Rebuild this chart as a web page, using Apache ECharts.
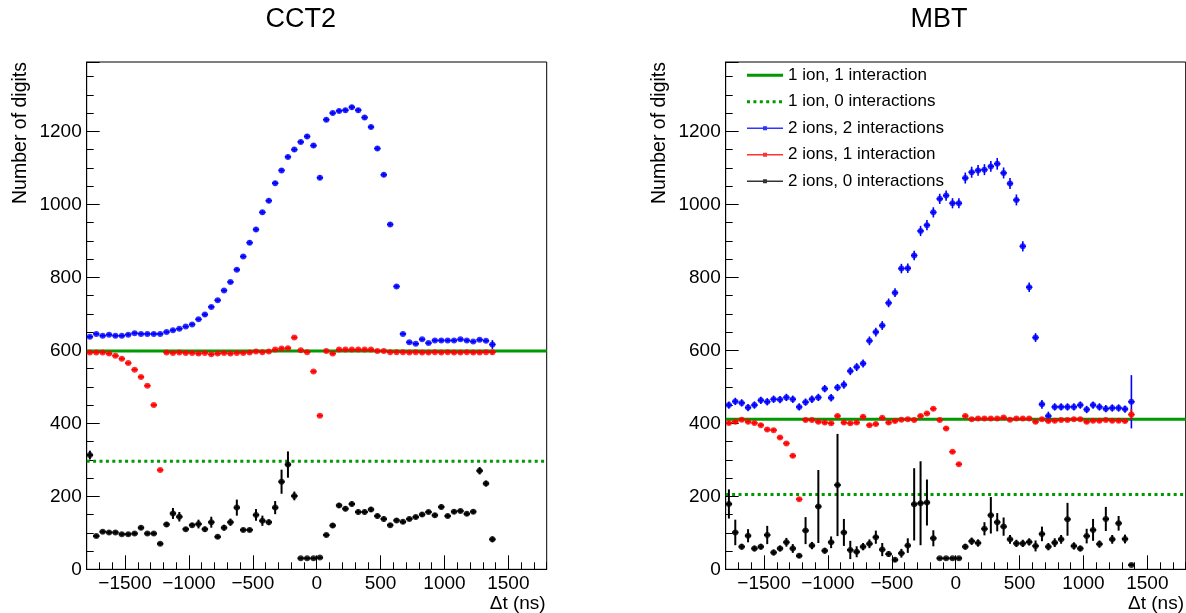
<!DOCTYPE html>
<html>
<head>
<meta charset="utf-8">
<script src="https://cdn.jsdelivr.net/npm/echarts@6/dist/echarts.min.js"></script>
<style>html,body{margin:0;padding:0;background:#fff}#c{width:1186px;height:613px}</style>
</head>
<body>
<div id="c"></div>
<script>
// ---------- data ----------
const bins = [-1775,-1725,-1675,-1625,-1575,-1525,-1475,-1425,
  -1375,-1325,-1275,-1225,-1175,-1125,-1075,-1025,
  -975,-925,-875,-825,-775,-725,-675,-625,
  -575,-525,-475,-425,-375,-325,-275,-225,
  -175,-125,-75,-25,25,75,125,175,
  225,275,325,375,425,475,525,575,
  625,675,725,775,825,875,925,975,
  1025,1075,1125,1175,1225,1275,1325,1375];
const HALF_BIN = 25;
const xTicks = [-1500,-1000,-500,0,500,1000,1500];

// CCT2 (left panel)
const cct2_2ion2int = [637,645,640,643,640,640,643,647,
  645,645,645,645,650,655,659,665,
  671,685,698,719,737,764,787,821,
  857,895,931,978,1010,1058,1093,1130,
  1150,1171,1186,1161,1073,1232,1250,1256,
  1258,1266,1258,1238,1212,1153,1081,945,
  775,645,622,618,630,620,627,627,
  627,627,630,627,624,629,626,616];
const cct2_2ion2int_err = [4,4,4,4,4,4,4,4, 4,4,4,4,4,4,4,4, 4,4,5,5,5,5,5,5, 5,6,6,6,6,6,6,6,
  6,6,6,6,6,6,6,6, 6,6,6,6,6,6,6,6, 5,4,4,4,4,4,4,4, 4,4,4,4,4,4,4,12];
const cct2_2ion1int = [594,594,594,591,585,577,565,547,
  527,503,450,272,594,593,594,593,
  593,591,593,589,591,593,591,593,
  593,594,597,595,597,602,605,606,
  635,600,595,542,421,598,591,602,
  602,602,602,602,602,598,598,595,
  595,595,594,595,594,594,595,594,
  595,594,594,595,594,594,595,595];
const cct2_2ion1int_err = [4,4,4,4,4,4,4,4, 4,4,4,4,4,4,4,4, 4,4,4,4,4,4,4,4, 4,4,4,4,4,4,4,4,
  4,4,4,4,4,4,4,4, 4,4,4,4,4,4,4,4, 4,4,4,4,4,4,4,4, 4,4,4,4,4,4,4,6];
const cct2_2ion0int = [313,91,103,101,101,96,96,98,
  114,98,98,70,123,153,144,110,
  121,124,110,129,89,114,129,169,
  108,108,149,133,129,169,240,287,
  201,30,30,30,32,94,120,175,
  166,179,157,157,164,146,138,121,
  134,130,138,143,150,157,148,171,
  146,158,160,152,158,270,235,82];
const cct2_2ion0int_err = [12,5,5,5,5,5,5,5,
  6,5,5,5,7,15,13,6,
  6,12,7,15,6,8,10,22,
  6,6,16,14,8,18,33,36,
  12,3,3,3,3,6,7,7,
  7,7,7,7,7,7,7,6,
  6,6,6,6,6,6,6,7,
  6,6,6,6,6,10,8,8];
const cct2_1ion1int = 598;
const cct2_1ion0int = 296;

// MBT (right panel)
const mbt_2ion2int = [450,460,456,443,450,463,459,466,
  465,471,466,445,458,466,471,495,
  470,498,506,543,554,564,626,650,
  668,730,758,824,825,860,927,943,
  978,1015,1024,1003,1003,1072,1088,1093,
  1095,1104,1111,1086,1057,1012,885,773,
  635,452,420,445,445,445,445,450,
  438,450,445,440,442,442,439,459];
const mbt_2ion2int_err = [10,10,10,10,10,10,10,10, 10,10,10,10,10,10,10,10,
  10,10,11,11,11,11,12,12, 12,12,12,13,13,13,14,14,
  14,14,14,14,14,15,15,15, 15,15,16,15,15,15,14,13,
  12,12,12,10,10,10,10,10, 10,10,10,10,10,10,10,73];
const mbt_2ion1int = [401,404,410,404,401,395,383,381,
  361,345,311,192,409,409,404,402,
  400,420,402,400,402,418,395,398,
  415,402,406,410,411,409,420,427,
  440,409,386,322,288,420,411,413,
  413,413,413,416,410,413,413,413,
  404,411,406,407,409,409,411,411,
  404,407,407,409,407,407,406,424];
const mbt_2ion1int_err = [5,5,5,5,5,5,5,5, 5,5,5,5,5,5,5,5, 5,5,5,5,5,5,5,5, 5,5,5,5,5,5,5,5,
  5,5,5,5,5,5,5,5, 5,5,5,5,5,5,5,5, 5,5,5,5,5,5,5,5, 5,5,5,5,5,5,5,15];
const mbt_2ion0int = [179,101,62,92,57,62,94,46,
  57,74,57,37,106,65,172,51,
  74,231,101,53,48,62,70,88,
  54,42,26,44,65,178,181,183,
  85,30,30,30,30,62,77,72,
  111,148,129,117,82,71,71,75,
  64,97,62,73,82,137,64,57,
  91,108,69,138,82,126,83,12];
const mbt_2ion0int_err = [40,35,8,18,8,8,25,8,
  8,12,12,6,37,10,100,8,
  16,140,37,25,15,10,12,18,
  18,8,6,12,20,99,115,63,
  22,3,3,3,3,8,10,10,
  18,50,25,25,12,10,10,10,
  15,20,10,12,12,45,10,8,
  20,30,10,33,12,20,12,4];
const mbt_1ion1int = 411;
const mbt_1ion0int = 205;

const legendNames = ['1 ion, 1 interaction','1 ion, 0 interactions','2 ions, 2 interactions','2 ions, 1 interaction','2 ions, 0 interactions'];

// ---------- styling ----------
const FONT = '"Liberation Sans", Arial, Helvetica, sans-serif';
const GREEN = '#009900', BLUE = '#0000ff', RED = '#ff0000', BLACK = '#000000';

const chart = echarts.init(document.getElementById('c'), null, {renderer: 'canvas'});

function grid(left) {
  return {left: left, top: 62, width: 460, height: 507.3, show: true,
    borderColor: '#000', borderWidth: 1, backgroundColor: 'transparent', containLabel: false};
}
function yAx(gi) {
  return {type: 'value', gridIndex: gi, min: 0, max: 1390, interval: 200, position: 'left',
    axisLine: {show: true, onZero: false, lineStyle: {color: '#000', width: 1}},
    axisTick: {show: true, inside: true, length: 13, lineStyle: {color: '#000', width: 1}},
    minorTick: {show: true, splitNumber: 4, length: 7, lineStyle: {color: '#000', width: 1}},
    axisLabel: {show: true, margin: 5, fontSize: 19, color: '#000', fontFamily: FONT,
      formatter: v => (v > 1300 ? '' : String(v))},
    splitLine: {show: false}, minorSplitLine: {show: false}};
}
function xMajor(gi) {
  return {type: 'value', gridIndex: gi, min: -1800, max: 1800, position: 'bottom',
    axisLine: {show: true, onZero: false, lineStyle: {color: '#000', width: 1}},
    axisTick: {show: true, inside: true, length: 14, customValues: xTicks, lineStyle: {color: '#000', width: 1}},
    minorTick: {show: false},
    axisLabel: {show: true, customValues: xTicks, margin: 5, fontSize: 19, color: '#000', fontFamily: FONT,
      formatter: v => String(v).replace('-', '\u2212')},
    splitLine: {show: false}};
}
function xMinor(gi) {
  return {type: 'value', gridIndex: gi, min: -1800, max: 1800, interval: 100, position: 'bottom',
    axisLine: {show: false, onZero: false},
    axisTick: {show: true, inside: true, length: 7, lineStyle: {color: '#000', width: 1}},
    axisLabel: {show: false}, splitLine: {show: false}};
}

function markers(name, xi, yi, vals, color) {
  return {type: 'scatter', name: name, xAxisIndex: xi, yAxisIndex: yi, color: color,
    data: bins.map((x, i) => [x, vals[i]]), symbol: 'circle', symbolSize: 6,
    itemStyle: {color: color}, silent: true, z: 5};
}
function errors(name, xi, yi, vals, errs, color, lw) {
  return {type: 'custom', name: name, xAxisIndex: xi, yAxisIndex: yi, color: color, silent: true, z: 4,
    data: bins.map((x, i) => [x, vals[i], errs[i]]),
    renderItem: function (params, api) {
      const x = api.value(0), y = api.value(1), e = api.value(2);
      const p = api.coord([x, y]);
      const t = api.coord([x, y + e]);
      const b = api.coord([x, Math.max(0, y - e)]);
      const l = api.coord([x - HALF_BIN, y]);
      const r = api.coord([x + HALF_BIN, y]);
      return {type: 'group', children: [
        {type: 'line', shape: {x1: p[0], y1: t[1], x2: p[0], y2: b[1]}, style: {stroke: color, lineWidth: lw}},
        {type: 'line', shape: {x1: l[0], y1: p[1], x2: r[0], y2: p[1]}, style: {stroke: color, lineWidth: lw}}
      ]};
    }};
}
function hline(name, xi, yi, val, dashed) {
  return {type: 'line', name: name, xAxisIndex: xi, yAxisIndex: yi, color: GREEN,
    data: [[-1800, val], [1800, val]], symbol: 'none', silent: true, z: 2,
    lineStyle: {color: GREEN, width: 3, type: dashed ? [3, 3.4] : 'solid'}};
}

// legend icons (36 x 12 boxes)
const BOX = 'M0,0 L0.01,0 L0,0.01 Z M36,12 L35.99,12 L36,11.99 Z ';
const ICON_SOLID = 'path://' + BOX + 'M0,4.5 L36,4.5 L36,7.5 L0,7.5 Z';
let dots = '';
[0, 6.4, 12.8, 19.2, 25.6, 32].forEach(d => { dots += 'M' + d + ',4.5 L' + (d + 3) + ',4.5 L' + (d + 3) + ',7.5 L' + d + ',7.5 Z '; });
const ICON_DOT = 'path://' + BOX + dots;
const ICON_MARK = 'path://' + BOX + 'M0,5.3 L36,5.3 L36,6.7 L0,6.7 Z M16,4 L20,4 L20,8 L16,8 Z';

const option = {
  animation: false,
  backgroundColor: '#fff',
  grid: [grid(86.7), grid(725.7)],
  xAxis: [xMajor(0), xMinor(0), xMajor(1), xMinor(1)],
  yAxis: [yAx(0), yAx(1)],
  legend: {
    show: true, orient: 'vertical', left: 747, top: 66.8, padding: 0, itemGap: 9.5,
    itemWidth: 36, itemHeight: 12, selectedMode: false,
    textStyle: {fontSize: 17, lineHeight: 17, color: '#000', fontFamily: FONT},
    data: [
      {name: legendNames[0], icon: ICON_SOLID},
      {name: legendNames[1], icon: ICON_DOT},
      {name: legendNames[2], icon: ICON_MARK},
      {name: legendNames[3], icon: ICON_MARK},
      {name: legendNames[4], icon: ICON_MARK}
    ]
  },
  graphic: {elements: [
    {type: 'text', x: 300.7, y: 20, style: {text: 'CCT2', align: 'center', verticalAlign: 'middle', font: '27px ' + FONT, fill: '#000'}},
    {type: 'text', x: 939, y: 20, style: {text: 'MBT', align: 'center', verticalAlign: 'middle', font: '27px ' + FONT, fill: '#000'}},
    {type: 'text', x: 20.3, y: 62, rotation: Math.PI / 2, style: {text: 'Number of digits', align: 'right', verticalAlign: 'middle', font: '19.5px ' + FONT, fill: '#000'}},
    {type: 'text', x: 660, y: 62, rotation: Math.PI / 2, style: {text: 'Number of digits', align: 'right', verticalAlign: 'middle', font: '19.5px ' + FONT, fill: '#000'}},
    {type: 'text', x: 545.7, y: 603.5, style: {text: '\u0394t (ns)', align: 'right', verticalAlign: 'middle', font: '19px ' + FONT, fill: '#000'}},
    {type: 'text', x: 1184, y: 603.5, style: {text: '\u0394t (ns)', align: 'right', verticalAlign: 'middle', font: '19px ' + FONT, fill: '#000'}}
  ]},
  series: [
    // MBT (right) first so legend picks these
    hline(legendNames[0], 2, 1, mbt_1ion1int, false),
    hline(legendNames[1], 2, 1, mbt_1ion0int, true),
    markers(legendNames[2], 2, 1, mbt_2ion2int, BLUE),
    markers(legendNames[3], 2, 1, mbt_2ion1int, RED),
    markers(legendNames[4], 2, 1, mbt_2ion0int, BLACK),
    errors('MBT err 2i2', 2, 1, mbt_2ion2int, mbt_2ion2int_err, BLUE, 1.6),
    errors('MBT err 2i1', 2, 1, mbt_2ion1int, mbt_2ion1int_err, RED, 1.6),
    errors('MBT err 2i0', 2, 1, mbt_2ion0int, mbt_2ion0int_err, BLACK, 2),
    // CCT2 (left)
    hline('CCT2 1i1', 0, 0, cct2_1ion1int, false),
    hline('CCT2 1i0', 0, 0, cct2_1ion0int, true),
    markers('CCT2 2i2', 0, 0, cct2_2ion2int, BLUE),
    markers('CCT2 2i1', 0, 0, cct2_2ion1int, RED),
    markers('CCT2 2i0', 0, 0, cct2_2ion0int, BLACK),
    errors('CCT2 err 2i2', 0, 0, cct2_2ion2int, cct2_2ion2int_err, BLUE, 1.6),
    errors('CCT2 err 2i1', 0, 0, cct2_2ion1int, cct2_2ion1int_err, RED, 1.6),
    errors('CCT2 err 2i0', 0, 0, cct2_2ion0int, cct2_2ion0int_err, BLACK, 2)
  ]
};
chart.setOption(option);
</script>
</body>
</html>
